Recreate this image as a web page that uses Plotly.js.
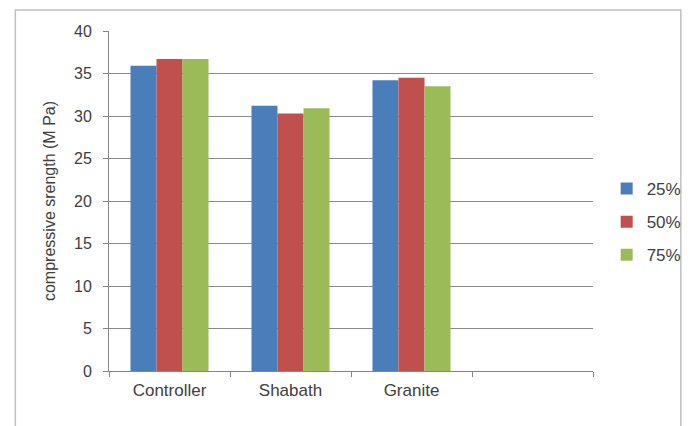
<!DOCTYPE html>
<html>
<head>
<meta charset="utf-8">
<script src="https://cdn.plot.ly/plotly-3.0.1.min.js"></script>
<style>html,body{margin:0;padding:0;background:#fff;}#chart{width:699px;height:426px;}</style>
</head>
<body>
<div id="chart"></div>
<script>
const categories = ['Controller', 'Shabath', 'Granite', ' '];
const seriesNames = ['25%', '50%', '75%'];
const s25 = [35.9, 31.2, 34.2, null];
const s50 = [36.7, 30.3, 34.5, null];
const s75 = [36.7, 30.9, 33.5, null];
const yTicks = [0, 5, 10, 15, 20, 25, 30, 35, 40];
const colors = ['#4A7EBB', '#C0504D', '#9BBB59'];

const seriesValues = [s25, s50, s75];
const traces = seriesValues.map((vals, i) => ({
  type: 'bar',
  name: seriesNames[i],
  x: categories,
  y: vals,
  marker: {color: colors[i]},
  legendgroup: 'g' + i,
  hoverinfo: 'none'
}));

const L = 109, R = 605, T = 31, B = 371, W = 699, H = 426;
const pw = R - L, ph = B - T;
const px = v => (v - L) / pw;
const py = v => (B - v) / ph;

const layout = {
  width: W, height: H,
  margin: {l: L, r: W - R, t: T, b: H - B, pad: 0},
  paper_bgcolor: '#ffffff',
  plot_bgcolor: '#ffffff',
  font: {family: 'Liberation Sans, Arial, sans-serif', size: 16, color: '#404040'},
  barmode: 'group',
  bargap: 0.355,
  bargroupgap: 0,
  showlegend: true,
  legend: {
    x: px(619), xanchor: 'left',
    y: py(222), yanchor: 'middle',
    font: {size: 17, color: '#404040'},
    tracegroupgap: 8,
    bgcolor: 'rgba(0,0,0,0)',
    itemwidth: 30
  },
  xaxis: {
    type: 'category',
    categoryorder: 'array',
    categoryarray: categories,
    range: [-0.5, 3.5],
    tickson: 'boundaries',
    ticks: 'outside',
    ticklen: 5,
    tickcolor: '#868686',
    showgrid: false,
    showline: true,
    linecolor: '#868686',
    linewidth: 1,
    zeroline: false,
    tickfont: {size: 17, color: '#404040'},
    ticklabelstandoff: 4,
    fixedrange: true
  },
  yaxis: {
    range: [0, 40],
    tickvals: yTicks,
    ticktext: yTicks.map(String),
    ticks: 'outside',
    ticklen: 5,
    tickcolor: '#868686',
    showgrid: true,
    gridcolor: '#8a8a8a',
    gridwidth: 1,
    showline: true,
    linecolor: '#868686',
    zeroline: false,
    tickfont: {size: 16, color: '#404040'},
    ticklabelstandoff: 8,
    title: {text: 'compressive srength (M Pa)', font: {size: 16, color: '#404040'}, standoff: 14},
    fixedrange: true
  },
  shapes: [{
    type: 'rect', xref: 'paper', yref: 'paper', layer: 'below',
    x0: px(13), x1: px(695), y0: py(432), y1: py(10),
    line: {color: '#c0c0c0', width: 1.5}, fillcolor: 'rgba(0,0,0,0)'
  }]
};

Plotly.newPlot('chart', traces, layout, {staticPlot: true, displayModeBar: false});
</script>
</body>
</html>
